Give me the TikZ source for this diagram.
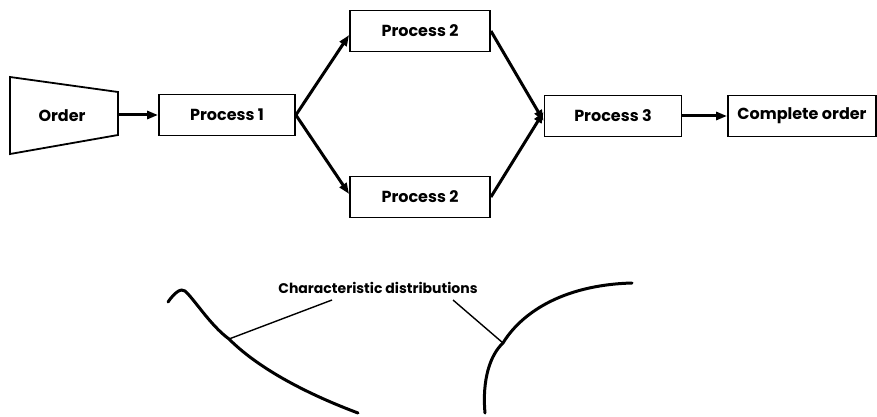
\documentclass[tikz,border=0pt]{standalone}
\usepackage{fontspec}
\setmainfont{Poppins}
\usetikzlibrary{arrows.meta}
\begin{document}
\begin{tikzpicture}[x=1pt,y=-1pt,
  box/.style={draw,line width=1.8pt,minimum height=41pt,inner sep=0pt,font=\fontsize{16}{18}\selectfont\bfseries},
  conn/.style={line width=3pt,-{Triangle[length=11pt,width=8pt]}},
  curve/.style={line width=3pt,line cap=round},
  leader/.style={line width=1.4pt},
  lbl/.style={font=\fontsize{14}{16}\selectfont\bfseries}]
\useasboundingbox (0,0) rectangle (877,417);
% Order trapezoid
\draw[line width=1.8pt,line join=miter] (10,77) -- (118,92) -- (118,135) -- (10,154) -- cycle;
\node[font=\fontsize{16}{18}\selectfont\bfseries] (order) at (62,116) {Order};
\coordinate (orderR) at (118,115);
\node[box,minimum width=136pt] (p1) at (227,115) {Process 1};
\node[box,minimum width=140pt] (p2a) at (420,31) {Process 2};
\node[box,minimum width=140pt] (p2b) at (420,197) {Process 2};
\node[box,minimum width=137pt] (p3) at (613,116) {Process 3};
\node[box,minimum width=148pt] (co) at (802,116) {Complete order};
\draw[conn] (orderR) -- (p1.west);
\draw[conn] (p1.east) -- ([yshift=-4pt]p2a.west);
\draw[conn] (p1.east) -- ([yshift=3pt]p2b.west);
\draw[conn] (p2a.east) -- ([yshift=-5pt]p3.west);
\draw[conn] (p2b.east) -- ([yshift=4pt]p3.west);
\draw[conn] (p3.east) -- (co.west);
% characteristic distributions
\node[lbl] (cd) at (378,288) {Characteristic distributions};
\draw[curve] (168,302) .. controls (175,292) and (181,288) .. (185,291)
  .. controls (195,300) and (210,325) .. (229,339)
  .. controls (260,370) and (310,395) .. (358,413);
\draw[curve] (485,413) .. controls (482,380) and (490,355) .. (503,343)
  .. controls (520,315) and (560,285) .. (632,283);
\coordinate (la) at (229,339);
\coordinate (lb) at (503,343);
\draw[leader] (la) -- (332,300);
\draw[leader] (lb) -- (453,300);
\end{tikzpicture}
\end{document}
